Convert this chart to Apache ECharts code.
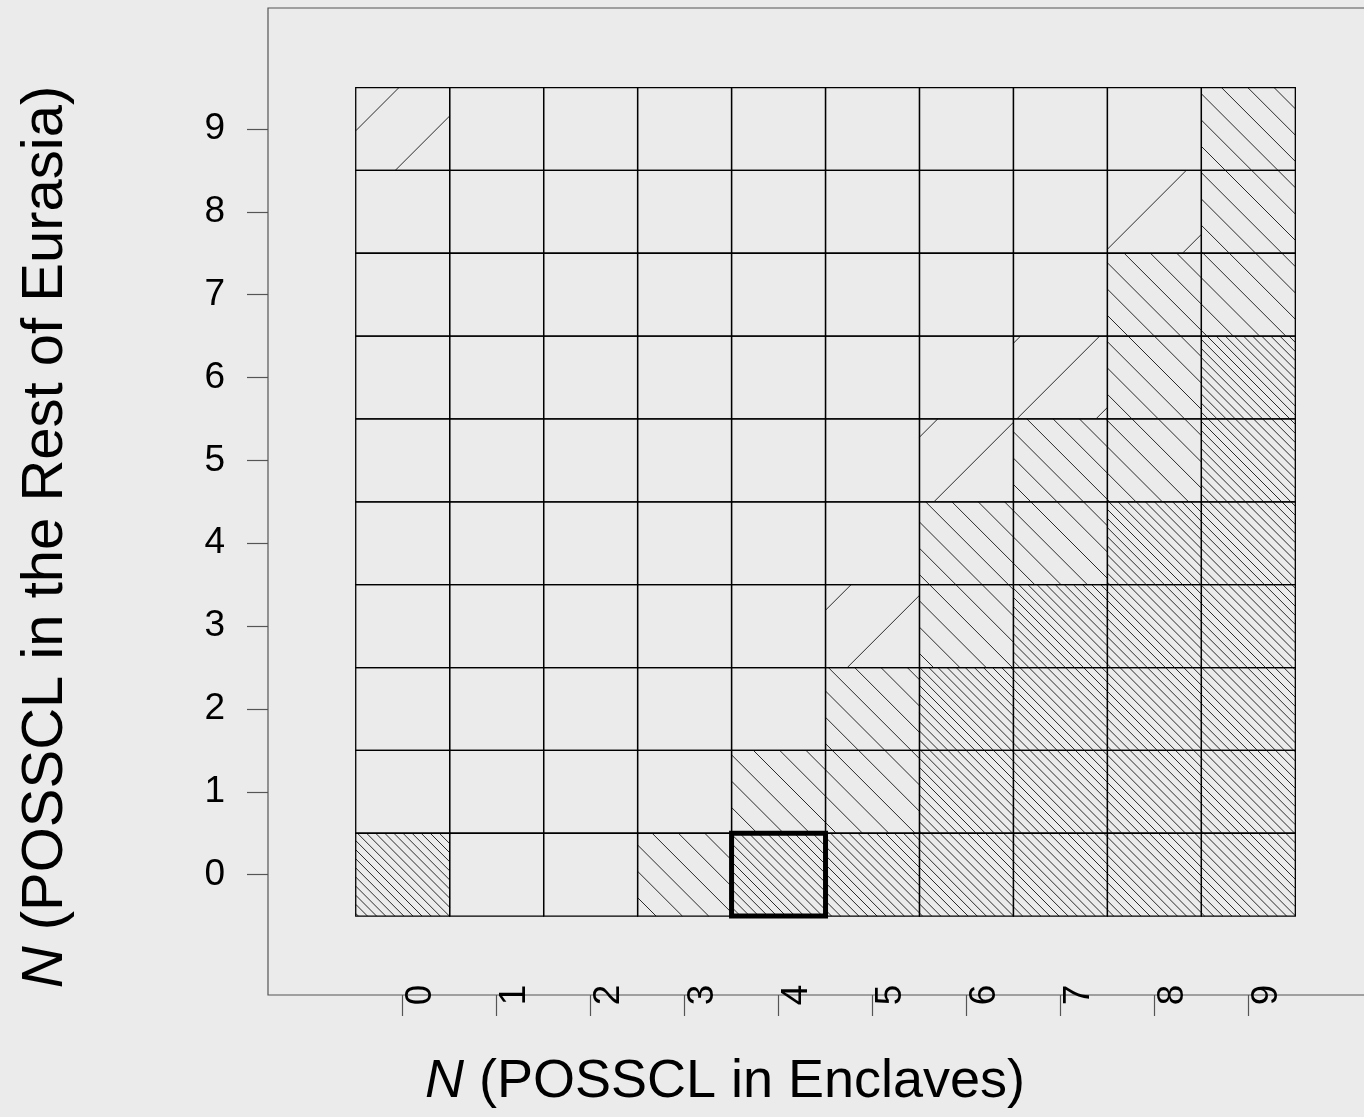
<!DOCTYPE html>
<html>
<head>
<meta charset="utf-8">
<script src="https://cdn.jsdelivr.net/npm/echarts@6/dist/echarts.min.js"></script>
<style>
html, body { margin: 0; padding: 0; background: #ebebeb; overflow: hidden; }
#main { width: 1400px; height: 1117px; }
</style>
</head>
<body>
<div id="main"></div>
<script>
var xTicks = [0, 1, 2, 3, 4, 5, 6, 7, 8, 9];
var yTicks = [0, 1, 2, 3, 4, 5, 6, 7, 8, 9];
// shading of each cell: 0 none, 1 wide "/", 2 medium "\", 3 dense "\"
var row0 = [3, 0, 0, 2, 3, 3, 3, 3, 3, 3];
var row1 = [0, 0, 0, 0, 2, 2, 3, 3, 3, 3];
var row2 = [0, 0, 0, 0, 0, 2, 3, 3, 3, 3];
var row3 = [0, 0, 0, 0, 0, 1, 2, 3, 3, 3];
var row4 = [0, 0, 0, 0, 0, 0, 2, 2, 3, 3];
var row5 = [0, 0, 0, 0, 0, 0, 1, 2, 2, 3];
var row6 = [0, 0, 0, 0, 0, 0, 0, 1, 2, 3];
var row7 = [0, 0, 0, 0, 0, 0, 0, 0, 2, 2];
var row8 = [0, 0, 0, 0, 0, 0, 0, 0, 1, 2];
var row9 = [1, 0, 0, 0, 0, 0, 0, 0, 0, 2];
var marked = [4, 0];

var rows = [row0, row1, row2, row3, row4, row5, row6, row7, row8, row9];
var cells = [];
for (var j = 0; j < rows.length; j++) {
    for (var i = 0; i < rows[j].length; i++) {
        cells.push([xTicks[i], yTicks[j], rows[j][i]]);
    }
}

// hatch settings: direction (1 = "\", -1 = "/"), spacing, phase (px)
var hatch = {
    1: { dir: -1, step: 79.1, phase: 5.7 },
    2: { dir: 1, step: 26.3, phase: 15.2 },
    3: { dir: 1, step: 9.1, phase: 6.4 }
};

function hatchLines(x0, y0, x1, y1, h, base) {
    var out = [];
    var cMin, cMax;
    if (h.dir > 0) { cMin = y0 - x1; cMax = y1 - x0; }
    else { cMin = x0 + y0; cMax = x1 + y1; }
    var k = Math.ceil((cMin - base) / h.step);
    for (var c = base + k * h.step; c <= cMax; c += h.step) {
        var a, b;
        if (h.dir > 0) {
            a = Math.max(x0, y0 - c); b = Math.min(x1, y1 - c);
            if (b - a > 0.3) out.push([a, a + c, b, b + c]);
        } else {
            a = Math.max(x0, c - y1); b = Math.min(x1, c - y0);
            if (b - a > 0.3) out.push([a, c - a, b, c - b]);
        }
    }
    return out;
}

function renderCell(params, api) {
    var x = api.value(0), y = api.value(1), lv = api.value(2);
    var p0 = api.coord([x - 0.5, y + 0.5]);
    var p1 = api.coord([x + 0.5, y - 0.5]);
    var org = api.coord([-0.5, -0.5]);
    var children = [];
    if (lv > 0) {
        var h = hatch[lv];
        var base = (h.dir > 0 ? org[1] - org[0] : org[0] + org[1]) + h.phase;
        var segs = hatchLines(p0[0], p0[1], p1[0], p1[1], h, base);
        for (var s = 0; s < segs.length; s++) {
            children.push({
                type: 'line',
                shape: { x1: segs[s][0], y1: segs[s][1], x2: segs[s][2], y2: segs[s][3] },
                style: { stroke: '#2a2a2a', lineWidth: 1 }
            });
        }
    }
    children.push({
        type: 'rect',
        shape: { x: p0[0], y: p0[1], width: p1[0] - p0[0], height: p1[1] - p0[1] },
        style: { fill: null, stroke: '#000', lineWidth: 1.3 }
    });
    return { type: 'group', children: children };
}

function renderMark(params, api) {
    var x = api.value(0), y = api.value(1);
    var p0 = api.coord([x - 0.5, y + 0.5]);
    var p1 = api.coord([x + 0.5, y - 0.5]);
    return {
        type: 'rect',
        shape: { x: p0[0], y: p0[1], width: p1[0] - p0[0], height: p1[1] - p0[1] },
        style: { fill: null, stroke: '#000', lineWidth: 5 }
    };
}

var font = 'Liberation Sans, Arial, sans-serif';
var myChart = echarts.init(document.getElementById('main'));
var option = {
    backgroundColor: '#ebebeb',
    animation: false,
    grid: {
        left: 268, top: 8, width: 1115, height: 987,
        show: true, borderColor: '#555', borderWidth: 1.2, backgroundColor: 'transparent'
    },
    xAxis: {
        type: 'value', min: -1.4336, max: 10.433,
        axisLine: { show: false, onZero: false },
        splitLine: { show: false },
        axisTick: { show: true, customValues: xTicks, length: 21, lineStyle: { color: '#555', width: 1.2 } },
        axisLabel: {
            customValues: xTicks, rotate: 90, align: 'center', verticalAlign: 'top', margin: 0,
            fontSize: 37, fontFamily: font, color: '#000'
        }
    },
    yAxis: {
        type: 'value', min: -1.452, max: 10.46,
        axisLine: { show: false, onZero: false },
        splitLine: { show: false },
        axisTick: { show: true, customValues: yTicks, length: 21, lineStyle: { color: '#555', width: 1.2 } },
        axisLabel: { customValues: yTicks, margin: 43, fontSize: 37, fontFamily: font, color: '#000' }
    },
    graphic: [
        {
            type: 'text', x: 725, y: 1082,
            style: {
                text: '{i|N} (POSSCL in Enclaves)',
                fontSize: 54, fontFamily: font, fill: '#000', align: 'center', verticalAlign: 'middle',
                rich: { i: { fontStyle: 'italic', fontSize: 54, fontFamily: font } }
            }
        },
        {
            type: 'text', x: 46, y: 537, rotation: Math.PI / 2,
            style: {
                text: '{i|N} (POSSCL in the Rest of Eurasia)',
                fontSize: 58, fontFamily: font, fill: '#000', align: 'center', verticalAlign: 'middle',
                rich: { i: { fontStyle: 'italic', fontSize: 58, fontFamily: font } }
            }
        }
    ],
    series: [
        { type: 'custom', renderItem: renderCell, data: cells, clip: false, z: 2 },
        { type: 'custom', renderItem: renderMark, data: [marked], clip: false, z: 3 }
    ]
};
myChart.setOption(option);
</script>
</body>
</html>
